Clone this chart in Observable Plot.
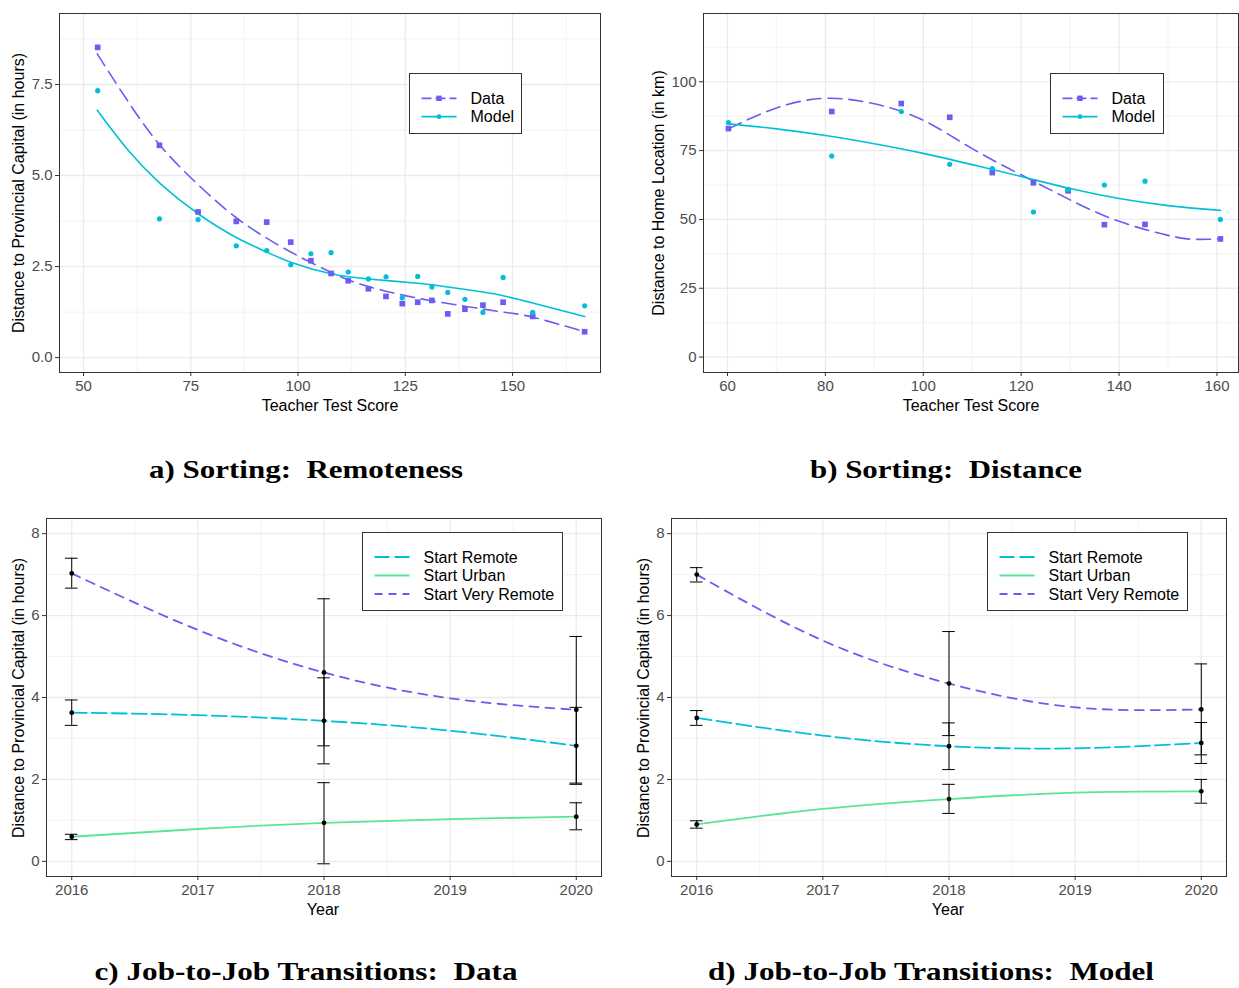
<!DOCTYPE html>
<html><head><meta charset="utf-8">
<script src="https://cdn.jsdelivr.net/npm/d3@7"></script>
<script src="https://cdn.jsdelivr.net/npm/@observablehq/plot@0.6"></script>
<style>
html,body{margin:0;padding:0;background:#fff;}
#root{position:relative;width:1239px;height:988px;overflow:hidden;font-family:"Liberation Sans",Arial,sans-serif;}
</style></head><body><div id="root"></div>
<script>
// ---------- Panel a: Sorting: Remoteness ----------
const scoreA = [53.3, 67.7, 76.7, 85.6, 92.7, 98.3, 103.0, 107.7, 111.7, 116.4, 120.5, 124.3, 127.9, 131.2, 134.9, 138.9, 143.1, 147.8, 154.7, 166.8];
const dataA  = [8.52, 5.83, 4.00, 3.74, 3.72, 3.17, 2.66, 2.31, 2.11, 1.89, 1.68, 1.48, 1.52, 1.57, 1.20, 1.33, 1.44, 1.52, 1.13, 0.71];
const modelA = [7.33, 3.81, 3.79, 3.07, 2.94, 2.55, 2.85, 2.88, 2.35, 2.16, 2.22, 1.64, 2.23, 1.94, 1.79, 1.60, 1.24, 2.20, 1.24, 1.42];
const dataFitXA  = [53.2, 60, 67.7, 76.7, 85.6, 92.7, 98.3, 107.7, 116.4, 127.9, 138.9, 147.8, 154.7, 166.8];
const dataFitA   = [8.34, 7.10, 5.85, 4.75, 3.84, 3.28, 2.90, 2.34, 1.95, 1.63, 1.41, 1.25, 1.11, 0.71];
const modelFitXA = [53.2, 60, 67.7, 76.7, 85.6, 92.7, 98.3, 107.7, 116.4, 127.9, 134.9, 143.1, 147.8, 154.7, 166.8];
const modelFitA  = [6.79, 5.75, 4.80, 3.95, 3.30, 2.90, 2.62, 2.30, 2.16, 2.04, 1.94, 1.80, 1.70, 1.50, 1.13];

// ---------- Panel b: Sorting: Distance ----------
const scoreB = [60.2, 81.3, 95.5, 105.4, 114.1, 122.5, 129.6, 137.0, 145.3, 160.7];
const dataB  = [83.0, 89.2, 92.1, 87.1, 67.0, 63.3, 60.4, 48.1, 48.2, 42.9];
const modelB = [85.2, 73.0, 89.2, 70.0, 68.5, 52.7, 60.9, 62.5, 63.9, 50.0];
const fitXB     = [60.2, 70, 80, 90, 100, 110, 120, 130, 140, 150, 155, 160.7];
const dataFitB  = [82.9, 90.5, 94.0, 92.0, 86.0, 75.7, 66.2, 57.1, 49.3, 44.2, 42.8, 42.9];
const modelFitB = [84.7, 82.9, 80.5, 77.5, 74.0, 69.9, 65.6, 61.2, 57.6, 55.0, 54.1, 53.3];

// ---------- Panels c & d: Job-to-Job Transitions ----------
const years = [2016, 2018, 2020];
const fitYears = [2016, 2017, 2018, 2019, 2020];
const seriesNames = ["Start Remote", "Start Urban", "Start Very Remote"];

const cRemote = [3.63, 3.43, 2.82], cRemoteLo = [3.32, 2.38, 1.88], cRemoteHi = [3.94, 4.48, 3.76];
const cUrban = [0.60, 0.94, 1.09], cUrbanLo = [0.53, -0.06, 0.77], cUrbanHi = [0.66, 1.92, 1.43];
const cVery = [7.03, 4.61, 3.70], cVeryLo = [6.67, 2.82, 1.91], cVeryHi = [7.40, 6.41, 5.49];
const cRemoteFit = [3.63, 3.57, 3.43, 3.19, 2.82];
const cUrbanFit  = [0.60, 0.79, 0.94, 1.03, 1.09];
const cVeryFit   = [7.03, 5.65, 4.61, 3.98, 3.70];

const dRemote = [3.50, 2.81, 2.89], dRemoteLo = [3.32, 2.24, 2.39], dRemoteHi = [3.68, 3.38, 3.39];
const dUrban = [0.90, 1.52, 1.71], dUrbanLo = [0.81, 1.17, 1.42], dUrbanHi = [0.99, 1.88, 2.00];
const dVery = [7.00, 4.34, 3.71], dVeryLo = [6.82, 3.07, 2.60], dVeryHi = [7.17, 5.61, 4.82];
const dRemoteFit = [3.50, 3.07, 2.81, 2.76, 2.89];
const dUrbanFit  = [0.90, 1.28, 1.52, 1.68, 1.71];
const dVeryFit   = [7.00, 5.39, 4.34, 3.76, 3.71];

// ---------- styles ----------
const PURPLE = "#6C5CF2", CYAN = "#00C0D9", GREEN = "#5BE597";
const DASH_DATA = "14,7", DASH_REMOTE = "15,5", DASH_VERY = "9,7";
const CAP_HALF = 0.05;

const root = document.getElementById("root");
const baseStyle = {fontFamily: '"Liberation Sans", Arial, sans-serif', fontSize: "15px", color: "#4D4D4D", background: "transparent", overflow: "visible"};

function zipRows(xs, cols) {
  return xs.map((x, i) => { const r = {x}; for (const k in cols) r[k] = cols[k][i]; return r; });
}

function makePanel(cfg, marks) {
  const chart = Plot.plot({
    width: cfg.width, height: cfg.height,
    marginLeft: cfg.ml, marginRight: cfg.mr, marginTop: cfg.mt, marginBottom: cfg.mb,
    x: {domain: cfg.xDomain}, y: {domain: cfg.yDomain},
    style: baseStyle,
    marks: [
      Plot.gridX({ticks: cfg.xMinor, stroke: "#EEEEEE", strokeOpacity: 1, strokeWidth: 0.7}),
      Plot.gridY({ticks: cfg.yMinor, stroke: "#EEEEEE", strokeOpacity: 1, strokeWidth: 0.7}),
      Plot.gridX({ticks: cfg.xTicks, stroke: "#EBEBEB", strokeOpacity: 1, strokeWidth: 1.3}),
      Plot.gridY({ticks: cfg.yTicks, stroke: "#EBEBEB", strokeOpacity: 1, strokeWidth: 1.3}),
      ...marks,
      Plot.axisX({ticks: cfg.xTicks, tickFormat: cfg.xFormat, tickSize: 4, tickPadding: 4, label: null, stroke: "#333333", fill: "#4D4D4D", fontSize: 15}),
      Plot.axisY({ticks: cfg.yTicks, tickFormat: cfg.yFormat, tickSize: 4, tickPadding: 3, label: null, stroke: "#333333", fill: "#4D4D4D", fontSize: 15}),
      Plot.frame({stroke: "#333333", strokeWidth: 1})
    ]
  });
  chart.style.position = "absolute";
  chart.style.left = cfg.left + "px";
  chart.style.top = cfg.top + "px";
  root.appendChild(chart);
}

// Panel a
{
  const pts = zipRows(scoreA, {data: dataA, model: modelA});
  const fd = zipRows(dataFitXA, {y: dataFitA});
  const fm = zipRows(modelFitXA, {y: modelFitA});
  makePanel({left: 0, top: 0, width: 615, height: 420, ml: 59, mr: 15, mt: 13, mb: 48,
    xDomain: [44.4, 170.5], yDomain: [-0.41, 9.45],
    xTicks: [50, 75, 100, 125, 150], xMinor: [62.5, 87.5, 112.5, 137.5, 162.5],
    yTicks: [0, 2.5, 5, 7.5], yMinor: [1.25, 3.75, 6.25, 8.75],
    xFormat: d3.format("d"), yFormat: d3.format(".1f")}, [
    Plot.line(fd, {x: "x", y: "y", stroke: PURPLE, strokeWidth: 1.6, strokeDasharray: DASH_DATA, curve: "natural"}),
    Plot.line(fm, {x: "x", y: "y", stroke: CYAN, strokeWidth: 1.6, curve: "natural"}),
    Plot.dot(pts, {x: "x", y: "data", symbol: "square", r: 3.2, fill: PURPLE}),
    Plot.dot(pts, {x: "x", y: "model", r: 2.6, fill: CYAN})
  ]);
}
// Panel b
{
  const pts = zipRows(scoreB, {data: dataB, model: modelB});
  const fit = zipRows(fitXB, {data: dataFitB, model: modelFitB});
  makePanel({left: 620, top: 0, width: 619, height: 420, ml: 83, mr: 1, mt: 13, mb: 48,
    xDomain: [55.1, 164.4], yDomain: [-5.6, 124.8],
    xTicks: [60, 80, 100, 120, 140, 160], xMinor: [70, 90, 110, 130, 150],
    yTicks: [0, 25, 50, 75, 100], yMinor: [12.5, 37.5, 62.5, 87.5, 112.5],
    xFormat: d3.format("d"), yFormat: d3.format("d")}, [
    Plot.line(fit, {x: "x", y: "data", stroke: PURPLE, strokeWidth: 1.6, strokeDasharray: DASH_DATA, curve: "natural"}),
    Plot.line(fit, {x: "x", y: "model", stroke: CYAN, strokeWidth: 1.6, curve: "natural"}),
    Plot.dot(pts, {x: "x", y: "data", symbol: "square", r: 3.2, fill: PURPLE}),
    Plot.dot(pts, {x: "x", y: "model", r: 2.6, fill: CYAN})
  ]);
}

function transitionMarks(remote, urban, very, fits) {
  const groups = [
    {vals: remote, color: CYAN, dash: DASH_REMOTE, fit: fits[0]},
    {vals: urban, color: GREEN, dash: null, fit: fits[1]},
    {vals: very, color: PURPLE, dash: DASH_VERY, fit: fits[2]}
  ];
  const marks = [];
  for (const g of groups) {
    const rows = zipRows(fitYears, {y: g.fit});
    marks.push(Plot.line(rows, {x: "x", y: "y", stroke: g.color, strokeWidth: 1.8, strokeDasharray: g.dash || undefined, curve: "natural"}));
  }
  for (const g of groups) {
    const rows = zipRows(years, {y: g.vals[0], lo: g.vals[1], hi: g.vals[2]});
    marks.push(Plot.ruleX(rows, {x: "x", y1: "lo", y2: "hi", stroke: "#000", strokeWidth: 1}));
    marks.push(Plot.ruleY(rows, {y: "lo", x1: d => d.x - CAP_HALF, x2: d => d.x + CAP_HALF, stroke: "#000", strokeWidth: 1}));
    marks.push(Plot.ruleY(rows, {y: "hi", x1: d => d.x - CAP_HALF, x2: d => d.x + CAP_HALF, stroke: "#000", strokeWidth: 1}));
    marks.push(Plot.dot(rows, {x: "x", y: "y", r: 2.4, fill: "#000"}));
  }
  return marks;
}

const ccfg = {width: 615, height: 420, mt: 18, mb: 44,
  xDomain: [2015.8, 2020.2], yDomain: [-0.37, 8.37],
  xTicks: [2016, 2017, 2018, 2019, 2020], xMinor: [2016.5, 2017.5, 2018.5, 2019.5],
  yTicks: [0, 2, 4, 6, 8], yMinor: [1, 3, 5, 7],
  xFormat: d3.format("d"), yFormat: d3.format("d")};

makePanel({...ccfg, left: 0, top: 500, ml: 46, mr: 14},
  transitionMarks([cRemote, cRemoteLo, cRemoteHi], [cUrban, cUrbanLo, cUrbanHi], [cVery, cVeryLo, cVeryHi], [cRemoteFit, cUrbanFit, cVeryFit]));
makePanel({...ccfg, left: 620, top: 500, width: 619, ml: 51, mr: 13},
  transitionMarks([dRemote, dRemoteLo, dRemoteHi], [dUrban, dUrbanLo, dUrbanHi], [dVery, dVeryLo, dVeryHi], [dRemoteFit, dUrbanFit, dVeryFit]));

// ---------- overlay: axis titles, legends, captions ----------
const NS = "http://www.w3.org/2000/svg";
const ov = document.createElementNS(NS, "svg");
ov.setAttribute("width", 1239); ov.setAttribute("height", 988);
ov.style.position = "absolute"; ov.style.left = "0px"; ov.style.top = "0px"; ov.style.pointerEvents = "none";
root.appendChild(ov);

function el(tag, attrs, text) {
  const e = document.createElementNS(NS, tag);
  for (const k in attrs) e.setAttribute(k, attrs[k]);
  if (text != null) e.textContent = text;
  ov.appendChild(e);
  return e;
}
const SANS = '"Liberation Sans", Arial, sans-serif';
function title(text, x, y, rotate) {
  el("text", {x: 0, y: 0, "text-anchor": "middle", "dominant-baseline": "central", "font-family": SANS, "font-size": 16, fill: "#000",
    transform: `translate(${x},${y})` + (rotate ? " rotate(-90)" : "")}, text);
}
title("Teacher Test Score", 330, 405, false);
title("Teacher Test Score", 971, 405, false);
title("Year", 323, 909, false);
title("Year", 948, 909, false);
title("Distance to Provincial Capital (in hours)", 18, 193, true);
title("Distance to Home Location (in km)", 658, 193, true);
title("Distance to Provincial Capital (in hours)", 18, 698, true);
title("Distance to Provincial Capital (in hours)", 643, 698, true);

function legend(x, y, w, h, items) {
  el("rect", {x: x + 0.5, y: y + 0.5, width: w, height: h, fill: "#fff", stroke: "#333", "stroke-width": 1});
  items.forEach((it) => {
    const cy = y + it.dy;
    const a = {x1: x + 12.5, x2: x + 47.5, y1: cy, y2: cy, stroke: it.color, "stroke-width": 1.8};
    if (it.dash) a["stroke-dasharray"] = it.dash;
    el("line", a);
    if (it.marker === "square") el("rect", {x: x + 30 - 2.7, y: cy - 2.7, width: 5.4, height: 5.4, fill: it.color});
    if (it.marker === "circle") el("circle", {cx: x + 30, cy: cy, r: 2.4, fill: it.color});
    el("text", {x: x + 61.5, y: cy, "dominant-baseline": "central", "font-family": SANS, "font-size": 16, fill: "#000"}, it.label);
  });
}
const abItems = [
  {label: "Data", color: PURPLE, dash: "10,4", marker: "square", dy: 25.3},
  {label: "Model", color: CYAN, dash: null, marker: "circle", dy: 43.7}
];
legend(409, 73, 112, 60, abItems);
legend(1050, 73, 113, 60, abItems);
const cdItems = [
  {label: seriesNames[0], color: CYAN, dash: "15,5", dy: 25},
  {label: seriesNames[1], color: GREEN, dash: null, dy: 43.5},
  {label: seriesNames[2], color: PURPLE, dash: "8,6", dy: 62}
];
legend(362, 532, 200, 78, cdItems);
legend(987, 532, 200, 78, cdItems);

function caption(text, cx, baseline, width) {
  el("text", {x: cx, y: baseline, "text-anchor": "middle", "font-family": '"Liberation Serif", "Times New Roman", serif', "font-weight": "bold",
    "font-size": 26, fill: "#000", textLength: width, lengthAdjust: "spacingAndGlyphs", style: "white-space:pre"}, text);
}
caption("a) Sorting:  Remoteness", 306, 478, 314);
caption("b) Sorting:  Distance", 946, 478, 272);
caption("c) Job-to-Job Transitions:  Data", 306, 980, 423);
caption("d) Job-to-Job Transitions:  Model", 931, 980, 446);
</script></body></html>
